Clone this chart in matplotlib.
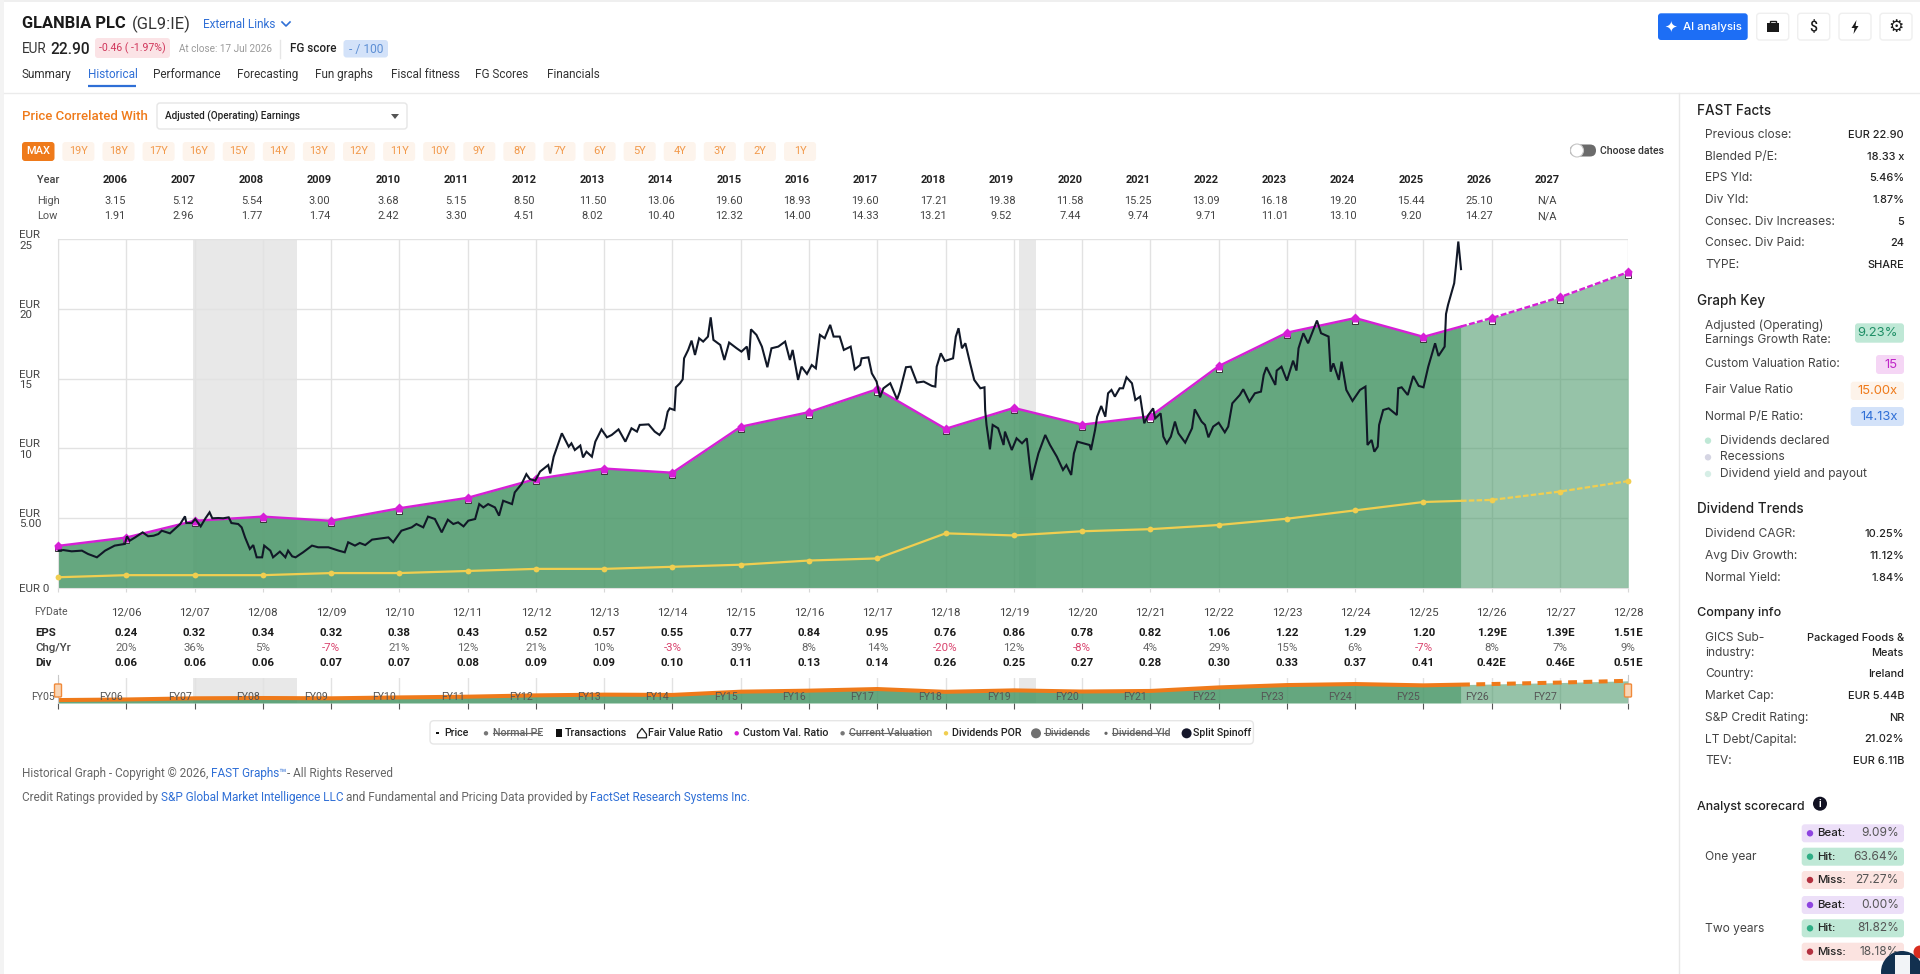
import numpy as np
import matplotlib
matplotlib.use("Agg")
import matplotlib.pyplot as plt
from matplotlib.patches import FancyBboxPatch, Rectangle, Circle, Polygon
from matplotlib.transforms import blended_transform_factory, offset_copy

plt.rcParams["font.family"] = ["Roboto", "DejaVu Sans"]

# Chart data
years = list(range(2006, 2028))
high = ["3.15", "5.12", "5.54", "3.00", "3.68", "5.15", "8.50", "11.50", "13.06", "19.60", "18.93",
        "19.60", "17.21", "19.38", "11.58", "15.25", "13.09", "16.18", "19.20", "15.44", "25.10", "N/A"]
low = ["1.91", "2.96", "1.77", "1.74", "2.42", "3.30", "4.51", "8.02", "10.40", "12.32", "14.00",
       "14.33", "13.21", "9.52", "7.44", "9.74", "9.71", "11.01", "13.10", "9.20", "14.27", "N/A"]

fy = list(range(2005, 2029))
eps = [0.20, 0.24, 0.32, 0.34, 0.32, 0.38, 0.43, 0.52, 0.57, 0.55, 0.77, 0.84, 0.95, 0.76, 0.86,
       0.78, 0.82, 1.06, 1.22, 1.29, 1.20, 1.29, 1.39, 1.51]
div = [0.05, 0.06, 0.06, 0.06, 0.07, 0.07, 0.08, 0.09, 0.09, 0.10, 0.11, 0.13, 0.14, 0.26, 0.25,
       0.27, 0.28, 0.30, 0.33, 0.37, 0.41, 0.42, 0.46, 0.51]
eps_labels = ["0.24", "0.32", "0.34", "0.32", "0.38", "0.43", "0.52", "0.57", "0.55", "0.77", "0.84", "0.95",
              "0.76", "0.86", "0.78", "0.82", "1.06", "1.22", "1.29", "1.20", "1.29E", "1.39E", "1.51E"]
chg = [20, 36, 5, -7, 21, 12, 21, 10, -3, 39, 8, 14, -20, 12, -8, 4, 29, 15, 6, -7, 8, 7, 9]
div_labels = ["0.06", "0.06", "0.06", "0.07", "0.07", "0.08", "0.09", "0.09", "0.10", "0.11", "0.13", "0.14",
              "0.26", "0.25", "0.27", "0.28", "0.30", "0.33", "0.37", "0.41", "0.42E", "0.46E", "0.51E"]
valuation_ratio = 15
recessions = [(2006.98, 2008.5), (2019.08, 2019.32)]
last_price_date = 2025.55

price_dates = [
    2005.01, 2005.08, 2005.2, 2005.35, 2005.44, 2005.57, 2005.69, 2005.83, 2005.98, 2006.01, 2006.05, 2006.13,
    2006.24, 2006.32, 2006.4, 2006.47, 2006.52, 2006.64, 2006.79, 2006.86, 2006.88, 2006.96, 2007.01, 2007.09,
    2007.16, 2007.22, 2007.26, 2007.35, 2007.42, 2007.5, 2007.54, 2007.64, 2007.69, 2007.74, 2007.81, 2007.86,
    2007.91, 2007.99, 2008.02, 2008.11, 2008.15, 2008.25, 2008.33, 2008.37, 2008.43, 2008.48, 2008.59, 2008.72,
    2008.81, 2008.96, 2009.11, 2009.2, 2009.25, 2009.35, 2009.42, 2009.5, 2009.6, 2009.84, 2009.91, 2010.03,
    2010.18, 2010.25, 2010.35, 2010.42, 2010.52, 2010.62, 2010.71, 2010.79, 2010.86, 2010.94, 2011.01, 2011.11,
    2011.17, 2011.23, 2011.3, 2011.4, 2011.46, 2011.52, 2011.65, 2011.69, 2011.79, 2011.86, 2011.91, 2011.99,
    2012.06, 2012.18, 2012.21, 2012.26, 2012.38, 2012.48, 2012.52, 2012.57, 2012.65, 2012.69, 2012.74, 2012.82,
    2012.87, 2012.96, 2013.04, 2013.11, 2013.21, 2013.31, 2013.4, 2013.48, 2013.52, 2013.65, 2013.74, 2013.81,
    2013.88, 2013.93, 2013.96, 2014.03, 2014.05, 2014.11, 2014.15, 2014.17, 2014.23, 2014.28, 2014.33, 2014.39,
    2014.45, 2014.52, 2014.56, 2014.6, 2014.7, 2014.76, 2014.83, 2014.94, 2015.01, 2015.09, 2015.12, 2015.15,
    2015.23, 2015.31, 2015.39, 2015.45, 2015.55, 2015.65, 2015.72, 2015.76, 2015.84, 2015.89, 2015.97, 2016.04,
    2016.1, 2016.16, 2016.23, 2016.31, 2016.36, 2016.45, 2016.51, 2016.61, 2016.67, 2016.75, 2016.77, 2016.87,
    2016.92, 2016.99, 2017.04, 2017.09, 2017.19, 2017.29, 2017.33, 2017.42, 2017.49, 2017.58, 2017.68, 2017.8,
    2017.85, 2017.87, 2017.93, 2017.99, 2018.11, 2018.15, 2018.19, 2018.24, 2018.29, 2018.36, 2018.42, 2018.51,
    2018.57, 2018.58, 2018.6, 2018.65, 2018.69, 2018.77, 2018.85, 2018.87, 2018.97, 2019.04, 2019.12, 2019.19,
    2019.23, 2019.26, 2019.36, 2019.46, 2019.53, 2019.63, 2019.72, 2019.77, 2019.84, 2019.88, 2019.93, 2020.11,
    2020.13, 2020.19, 2020.22, 2020.28, 2020.34, 2020.38, 2020.43, 2020.48, 2020.55, 2020.6, 2020.65, 2020.73,
    2020.78, 2020.85, 2020.91, 2020.97, 2021.04, 2021.07, 2021.15, 2021.19, 2021.24, 2021.3, 2021.36, 2021.41,
    2021.51, 2021.61, 2021.65, 2021.75, 2021.8, 2021.85, 2021.92, 2022.0, 2022.09, 2022.14, 2022.2, 2022.31,
    2022.36, 2022.45, 2022.53, 2022.62, 2022.66, 2022.7, 2022.83, 2022.85, 2022.92, 2023.0, 2023.09, 2023.14,
    2023.17, 2023.24, 2023.31, 2023.44, 2023.5, 2023.61, 2023.64, 2023.68, 2023.76, 2023.8, 2023.87, 2023.96,
    2024.07, 2024.15, 2024.18, 2024.24, 2024.28, 2024.33, 2024.35, 2024.41, 2024.49, 2024.61, 2024.63, 2024.68,
    2024.77, 2024.85, 2024.93, 2025.0, 2025.07, 2025.17, 2025.22, 2025.31, 2025.33, 2025.36, 2025.45, 2025.48,
    2025.51, 2025.55]
price_values = [
    2.66, 2.7, 2.61, 2.66, 2.42, 2.18, 2.66, 3.02, 3.14, 3.69, 3.37, 3.61,
    3.97, 3.69, 3.73, 3.85, 4.09, 3.9, 4.57, 5.12, 4.64, 4.64, 4.93, 4.4,
    4.98, 5.41, 4.98, 5.0, 4.98, 5.05, 4.64, 4.57, 4.33, 3.61, 2.78, 3.06,
    2.18, 2.18, 3.02, 2.66, 2.18, 2.59, 2.18, 2.66, 2.25, 2.18, 2.54, 3.02,
    2.9, 2.9, 2.66, 2.54, 3.26, 3.02, 3.21, 3.06, 3.45, 3.61, 3.26, 4.09,
    4.33, 4.57, 4.33, 5.1, 4.93, 3.97, 4.88, 4.57, 4.69, 4.4, 4.81, 4.93,
    6.0, 5.76, 6.0, 5.76, 5.17, 6.24, 6.0, 6.84, 7.44, 8.15, 7.8, 7.68,
    8.33, 8.8, 8.2, 9.4, 11.08, 10.12, 10.36, 9.88, 10.2, 9.35, 9.76, 9.4,
    10.48, 11.36, 10.79, 10.96, 11.36, 10.48, 11.44, 11.2, 11.68, 11.72, 11.2, 10.96,
    11.44, 12.63, 12.87, 12.75, 14.38, 14.67, 14.95, 16.46, 17.06, 17.73, 16.7, 17.9,
    17.66, 18.02, 19.4, 17.78, 17.42, 16.34, 17.59, 17.18, 16.94, 17.3, 16.34, 18.54,
    18.14, 17.3, 15.82, 17.18, 17.3, 17.66, 16.34, 17.06, 14.91, 15.86, 15.34, 15.98,
    15.74, 18.14, 17.9, 18.86, 18.02, 18.02, 17.06, 17.3, 15.67, 15.98, 16.46, 16.53,
    15.38, 14.79, 13.66, 14.31, 14.67, 13.52, 14.07, 15.82, 15.86, 14.72, 14.79, 14.48,
    14.43, 15.86, 16.82, 16.27, 16.46, 18.02, 18.62, 17.18, 17.54, 16.1, 14.91, 14.31,
    14.38, 12.75, 11.68, 9.93, 11.68, 11.44, 10.24, 11.2, 9.88, 10.72, 10.36, 10.72,
    8.92, 7.73, 9.64, 10.96, 10.24, 9.4, 8.45, 8.8, 8.09, 9.64, 10.48, 10.24,
    9.88, 11.32, 12.27, 13.04, 12.27, 13.95, 14.19, 13.71, 14.31, 14.31, 15.1, 14.67,
    13.47, 13.71, 11.8, 12.39, 12.87, 12.15, 12.51, 10.84, 10.36, 10.84, 11.92, 11.08,
    10.41, 11.44, 12.8, 11.92, 11.68, 10.79, 11.56, 11.84, 11.15, 11.56, 13.23, 13.83,
    14.24, 13.35, 13.95, 14.07, 15.27, 15.82, 14.55, 15.58, 15.86, 14.86, 16.29, 15.58,
    17.18, 18.26, 17.54, 19.17, 18.26, 18.02, 15.5, 16.1, 14.91, 16.22, 14.19, 13.4,
    14.19, 14.43, 10.24, 10.6, 9.76, 10.12, 11.68, 12.75, 12.87, 12.39, 14.31, 14.38,
    13.83, 15.19, 14.48, 14.38, 15.86, 17.54, 16.63, 17.3, 19.64, 20.3, 21.85, 23.29,
    24.84, 22.86]

# Page text
buttons = ["19Y", "18Y", "17Y", "16Y", "15Y", "14Y", "13Y", "12Y", "11Y", "10Y", "9Y", "8Y", "7Y", "6Y",
           "5Y", "4Y", "3Y", "2Y", "1Y"]
tabs = [("Summary", 22), ("Historical", 88), ("Performance", 153), ("Forecasting", 237), ("Fun graphs", 315),
        ("Fiscal fitness", 391), ("FG Scores", 475), ("Financials", 547.5)]
fast_facts = [("Previous close:", "EUR 22.90"), ("Blended P/E:", "18.33 x"), ("EPS Yld:", "5.46%"),
              ("Div Yld:", "1.87%"), ("Consec. Div Increases:", "5"), ("Consec. Div Paid:", "24"),
              ("TYPE:", "SHARE")]
div_trends = [("Dividend CAGR:", "10.25%"), ("Avg Div Growth:", "11.12%"), ("Normal Yield:", "1.84%")]
company = [("Country:", "Ireland"), ("Market Cap:", "EUR 5.44B"), ("S&P Credit Rating:", "NR"),
           ("LT Debt/Capital:", "21.02%"), ("TEV:", "EUR 6.11B")]
scores = [("Beat:", "9.09%"), ("Hit:", "63.64%"), ("Miss:", "27.27%"), ("Beat:", "0.00%"), ("Hit:", "81.82%"),
          ("Miss:", "18.18%")]

W, H = 1920, 974
GREEN = "#4A9869"
MAGENTA = "#D61FD6"
YELLOW = "#F0CE50"
ORANGE = "#EF7A1A"
BLUE = "#2F6FD6"


def fs(px):
    return px * 0.72


def axes_at(fig, x0, y0, x1, y1, **kw):
    return fig.add_axes([x0 / W, 1 - y1 / H, (x1 - x0) / W, (y1 - y0) / H], **kw)


fig = plt.figure(figsize=(W / 100, H / 100), dpi=100, facecolor="white")

# Full page layer in pixel units
ui = axes_at(fig, 0, 0, W, H, zorder=5)
ui.set_xlim(0, W)
ui.set_ylim(H, 0)
ui.axis("off")
ui.patch.set_alpha(0)


def txt(x, y, s, px=13, color="#333333", weight="normal", ha="left", family=None, **kw):
    if family is not None:
        kw["family"] = family
    return ui.text(x, y, s, fontsize=fs(px), color=color, fontweight=weight, ha=ha, va="center", **kw)


def chip(x0, y0, x1, y1, face, edge="none", r=3, lw=1, z=2):
    ui.add_patch(FancyBboxPatch((x0 + r, y0 + r), x1 - x0 - 2 * r, y1 - y0 - 2 * r,
                                boxstyle=f"round,pad={r},rounding_size={r}", fc=face, ec=edge, lw=lw, zorder=z))


# Frame lines
ui.add_patch(Rectangle((0, 0), W, 2, fc="#EFEFEF", ec="none"))
ui.add_patch(Rectangle((0, 0), 4, H, fc="#F3F3F3", ec="none"))
ui.plot([4, W], [93, 93], color="#EBEBEB", lw=1)
ui.plot([1679, 1679], [93, H], color="#E8E8E8", lw=1)

# Header
txt(22, 24, "GLANBIA PLC", 16.5, "#1A1A1A", "bold")
txt(131.5, 24, "(GL9:IE)", 16.5, "#333333")
txt(203, 24, "External Links", 11.7, BLUE)
ui.plot([282, 286, 290], [22, 26, 22], color=BLUE, lw=1.2)
txt(22, 49, "EUR", 13.5, "#333333")
txt(50, 49, "22.90", 15.5, "#222222", "medium")
chip(95, 38, 170, 58, "#FBE3E6")
txt(132.5, 48.5, "-0.46 ( -1.97%)", 10.5, "#D0355A", ha="center")
txt(179, 48.5, "At close: 17 Jul 2026", 10, "#9A9A9A")
ui.plot([280, 280], [40, 58], color="#E6E6E6", lw=1)
txt(290, 49, "FG score", 11.8, "#222222", "medium")
chip(343.5, 40, 388, 57.5, "#D3E2F9")
txt(365.7, 49, "- / 100", 12, "#5D8FD4", ha="center")
for name, x in tabs:
    txt(x, 74.7, name, 11.7, BLUE if name == "Historical" else "#333333")
ui.plot([88, 136], [85.7, 85.7], color=BLUE, lw=1.6, solid_capstyle="butt")

# Top right buttons
chip(1658, 13.3, 1747.7, 40, "#1D6EF5", r=3)
txt(1671, 27, "✦", 15, "white", ha="center", family="DejaVu Sans")
txt(1683, 27, "AI analysis", 11.4, "white", "medium", family="Inter")
for cx in (1772.7, 1813.7, 1855, 1896):
    chip(cx - 16, 13.3, cx + 16, 40, "white", edge="#EFEFEF")
ui.add_patch(Rectangle((1766.5, 23), 12.5, 9, fc="#1A1A1A", ec="none", zorder=3))
ui.add_patch(Rectangle((1770, 20.5), 5.5, 3, fc="none", ec="#1A1A1A", lw=1, zorder=3))
txt(1813.7, 27, "$", 14, "#1A1A1A", "medium", ha="center", zorder=3)
ui.add_patch(Polygon([[1856.5, 20], [1851.5, 28], [1854.5, 28], [1853.5, 34], [1858.5, 26], [1855.5, 26]],
                     fc="#1A1A1A", ec="none", zorder=3))
txt(1896, 26.5, "⚙", 17, "#1A1A1A", ha="center", family="DejaVu Sans", zorder=3)

# Controls row
txt(22, 116, "Price Correlated With", 13.2, ORANGE, "medium")
chip(157, 103, 407, 129, "white", edge="#E6E6E6")
txt(165, 116, "Adjusted (Operating) Earnings", 10, "#222222", "medium")
ui.add_patch(Polygon([[391, 114], [399, 114], [395, 119]], fc="#555555", ec="none", zorder=3))
chip(22, 142, 54.5, 161, ORANGE)
txt(38.2, 151.5, "MAX", 11, "white", "medium", ha="center")
for i, label in enumerate(buttons):
    cx = 78.4 + i * 40.09
    chip(cx - 16, 142, cx + 16, 161, "#FDF4EC")
    txt(cx, 151.5, label, 11, "#F2994A", ha="center")
chip(1570, 144.5, 1596, 156.5, "#6B6B6B", r=6)
ui.add_patch(Circle((1577, 150.5), 6.5, fc="white", ec="#C8C8C8", lw=0.8, zorder=3))
txt(1600, 150.5, "Choose dates", 10.5, "#333333", "medium")

# High / low table
txt(37, 180, "Year", 11, "#444444", "medium")
txt(37, 201, "High", 11, "#555555")
txt(37, 216, "Low", 11, "#555555")
for i, y in enumerate(years):
    cx = 115 + i * 68.2
    txt(cx, 180, str(y), 11, "#222222", "bold", ha="center")
    txt(cx, 201, high[i], 11, "#444444", ha="center")
    txt(cx, 216, low[i], 11, "#444444", ha="center")

# Main chart
ax = axes_at(fig, 58, 239.3, 1628.3, 587.7, zorder=2)
fair = np.array(eps) * valuation_ratio
div_line = np.array(div) * valuation_ratio
for a, b in recessions:
    ax.axvspan(a, b, color="#E8E8E8", lw=0, zorder=0)

fy_arr = np.array(fy, dtype=float)
hist = fy_arr < last_price_date
x_hist = np.append(fy_arr[hist], last_price_date)
x_fut = np.insert(fy_arr[~hist], 0, last_price_date)
fair_hist = np.interp(x_hist, fy_arr, fair)
fair_fut = np.interp(x_fut, fy_arr, fair)
div_hist = np.interp(x_hist, fy_arr, div_line)
div_fut = np.interp(x_fut, fy_arr, div_line)

ax.fill_between(x_hist, 0, fair_hist, color=GREEN, alpha=0.85, lw=0, zorder=2)
ax.fill_between(x_fut, 0, fair_fut, color=GREEN, alpha=0.58, lw=0, zorder=2)

ax.plot(x_hist, div_hist, color=YELLOW, lw=1.6, zorder=3)
ax.plot(x_fut, div_fut, color=YELLOW, lw=1.6, ls=(0, (2.5, 1)), zorder=3)
ax.plot(fy, div_line, ls="none", marker="o", ms=4.2, color=YELLOW, mec="none", zorder=3, clip_on=False)

below = offset_copy(ax.transData, fig=fig, y=-1.8, units="points")
ax.plot(fy, fair, ls="none", marker="s", ms=4.6, mfc="white", mec="#333333", mew=0.7, transform=below, zorder=4,
        clip_on=False)
ax.plot(x_hist, fair_hist, color=MAGENTA, lw=1.7, zorder=5)
ax.plot(x_fut, fair_fut, color=MAGENTA, lw=1.7, ls=(0, (2.5, 1)), zorder=5)
ax.plot(fy, fair, ls="none", marker="p", ms=6.5, color=MAGENTA, mec="none", zorder=6, clip_on=False)
ax.plot(price_dates, price_values, color="#111827", lw=1.5, solid_joinstyle="miter", zorder=7, clip_on=False)

ax.set_xlim(2005, 2028)
ax.set_ylim(0, 25)
ax.set_yticks([0, 5, 10, 15, 20, 25])
ax.set_yticklabels(["EUR 0", "EUR\n5.00", "EUR\n10", "EUR\n15", "EUR\n20", "EUR\n25"], fontsize=fs(11.5),
                   color="#444444", ha="left", linespacing=1.05)
ax.tick_params(axis="y", length=0, pad=28)
ax.set_xticks(fy)
ax.set_xticklabels([""] + [f"12/{y % 100:02d}" for y in fy[1:]], fontsize=fs(11.5), color="#444444")
ax.tick_params(axis="x", length=3, color="#D8D8D8", pad=11)
ax.grid(True, color="#E2E2E2", lw=1.0, zorder=1)
ax.set_axisbelow(True)
for name, s in ax.spines.items():
    s.set_visible(name in ("bottom", "left"))
    s.set_color("#E0E0E0")
txt(34.4, 611.7, "FYDate", 10.5, "#555555")

# EPS table, columns follow the chart's x scale
col = blended_transform_factory(ax.transData, ui.transData)
txt(35, 632.7, "EPS", 11.5, "#222222", "bold")
txt(35, 647.7, "Chg/Yr", 11.5, "#444444", "medium")
txt(35, 662.7, "Div", 11.5, "#222222", "bold")
for i, y in enumerate(fy[1:]):
    ui.text(y, 632.7, eps_labels[i], transform=col, ha="center", va="center", fontsize=fs(11.5),
            fontweight="bold", color="#1A1A1A")
    ui.text(y, 647.7, f"{chg[i]}%", transform=col, ha="center", va="center", fontsize=fs(11.5),
            color="#D9436D" if chg[i] < 0 else "#666666")
    ui.text(y, 662.7, div_labels[i], transform=col, ha="center", va="center", fontsize=fs(11.5),
            fontweight="bold", color="#1A1A1A")

# Navigator
nav = axes_at(fig, 58, 678, 1628.3, 703, zorder=3)
for a, b in recessions:
    nav.axvspan(a, b, color="#E8E8E8", lw=0, zorder=0)
nav.fill_between(x_hist, 0, fair_hist, color=GREEN, alpha=0.85, lw=0, zorder=2)
nav.fill_between(x_fut, 0, fair_fut, color=GREEN, alpha=0.58, lw=0, zorder=2)
nav.plot(x_hist, fair_hist, color=ORANGE, lw=2.9, solid_capstyle="butt", zorder=3)
nav.plot(x_fut, fair_fut, color=ORANGE, lw=2.9, ls=(0, (2.2, 1.6)), zorder=3)
nav.set_xlim(2005, 2028)
nav.set_ylim(0, 25.5)
nav.set_yticks([])
nav.set_xticks(fy)
nav.set_xticklabels([])
nav.tick_params(axis="x", length=4, color="#555555", width=0.8)
nav.grid(True, axis="x", color="#E2E2E2", lw=1.0)
nav.set_axisbelow(True)
for s in nav.spines.values():
    s.set_visible(False)
for i, y in enumerate(fy[:-1]):
    ui.text(y - 0.22, 696.7, f"FY{y % 100:02d}", transform=col, ha="center", va="center", fontsize=fs(10.5),
            color="#555555", zorder=6)
for hx in (58, 1628):
    ui.plot([hx, hx], [675, 703], color="#C8C8C8", lw=0.8, zorder=6)
    chip(hx - 3.5, 684, hx + 3.5, 697, "#F9D5B5", edge="#F08A3A", r=1, z=7)

# Legend
chip(430, 720.7, 1253.4, 744, "white", edge="#E6E6E6", r=4)
ly = 733.3
legend_text = [(444, "Price", None), (493, "Normal PE", 540), (565, "Transactions", None),
               (648.5, "Fair Value Ratio", None), (743.4, "Custom Val. Ratio", None),
               (848.8, "Current Valuation", 927), (952, "Dividends POR", None), (1044, "Dividends", 1087),
               (1112, "Dividend Yld", 1168), (1192.8, "Split Spinoff", None)]
for x, s, strike in legend_text:
    txt(x, ly, s, 10.6, "#666666" if strike else "#222222", "medium", zorder=4)
    if strike:
        ui.plot([x, strike], [ly, ly], color="#666666", lw=0.8, zorder=5)
ui.add_patch(Rectangle((435.5, ly - 1), 3.5, 2, fc="#111111", ec="none", zorder=4))
ui.add_patch(Circle((486, ly), 2.2, fc="#777777", ec="none", zorder=4))
ui.add_patch(Rectangle((555.5, ly - 4), 6.5, 8, fc="#111111", ec="none", zorder=4))
ui.add_patch(Polygon([[637.5, ly + 4.5], [637.5, ly + 1], [642, ly - 5], [646.5, ly + 1], [646.5, ly + 4.5]],
                     fc="white", ec="#222222", lw=0.9, zorder=4))
ui.add_patch(Circle((736.7, ly), 2.2, fc=MAGENTA, ec="none", zorder=4))
ui.add_patch(Circle((842.6, ly), 2.2, fc="#777777", ec="none", zorder=4))
ui.add_patch(Circle((946, ly), 2.2, fc=YELLOW, ec="none", zorder=4))
ui.add_patch(Circle((1036, ly), 5, fc="#707070", ec="none", zorder=4))
ui.add_patch(Circle((1106, ly), 1.6, fc="#666666", ec="none", zorder=4))
ui.add_patch(Circle((1186.6, ly), 5, fc="#15172A", ec="none", zorder=4))

# Footer
txt(22, 773.7, "Historical Graph - Copyright © 2026,", 11.7, "#666666")
txt(211, 773.7, "FAST Graphs™", 11.7, BLUE)
txt(287, 773.7, "- All Rights Reserved", 11.7, "#666666")
txt(22, 797.3, "Credit Ratings provided by", 11.7, "#666666")
txt(160.7, 797.3, "S&P Global Market Intelligence LLC", 11.7, BLUE)
txt(346, 797.3, "and Fundamental and Pricing Data provided by", 11.7, "#666666")
txt(590, 797.3, "FactSet Research Systems Inc.", 11.7, BLUE)

# Sidebar
SB = "Inter"
LX, RX, HX = 1705, 1904, 1696.7


def heading(y, s, px=13.5):
    txt(HX, y, s, px, "#222222", "medium", family=SB)


def row(y, label, value):
    txt(LX, y, label, 12, "#444444", family=SB)
    txt(RX, y, value, 11, "#222222", "medium", ha="right", family=SB)


heading(110.7, "FAST Facts")
for i, (a, b) in enumerate(fast_facts):
    row(135 + i * 21.67, a, b)

heading(301, "Graph Key")
txt(LX, 325.3, "Adjusted (Operating)", 12, "#444444", family=SB)
txt(LX, 340.3, "Earnings Growth Rate:", 12, "#444444", family=SB)
chip(1855, 323.3, 1904, 342.7, "#BFE8D6")
txt(1897.5, 333, "9.23%", 13, "#1F8F66", ha="right", family=SB, zorder=3)
txt(LX, 364, "Custom Valuation Ratio:", 12, "#444444", family=SB)
chip(1876, 355, 1904, 374, "#F5D6F5")
txt(1897.5, 364.5, "15", 13, "#C026C8", ha="right", family=SB, zorder=3)
txt(LX, 390.3, "Fair Value Ratio", 12, "#444444", family=SB)
chip(1850.7, 381.7, 1904, 400, "#FDF3EA")
txt(1897.5, 390.8, "15.00x", 13, ORANGE, ha="right", family=SB, zorder=3)
txt(LX, 416.7, "Normal P/E Ratio:", 12, "#444444", family=SB)
chip(1850.7, 407, 1904, 426, "#D3E2F9")
txt(1897.5, 416.5, "14.13x", 13, BLUE, ha="right", family=SB, zorder=3)
for y, c, s in [(440.7, "#BFE8D6", "Dividends declared"), (457.3, "#D5D5E3", "Recessions"),
                (474, "#D6EEE6", "Dividend yield and payout")]:
    ui.add_patch(Circle((1708, y), 3.2, fc=c, ec="none"))
    txt(1719.7, y, s, 12, "#444444", family=SB)

heading(509.3, "Dividend Trends")
for i, (a, b) in enumerate(div_trends):
    row(534 + i * 21.85, a, b)

heading(613.3, "Company info", 12.6)
txt(LX, 637.7, "GICS Sub-", 12, "#444444", family=SB)
txt(LX, 652.7, "industry:", 12, "#444444", family=SB)
txt(RX, 637.7, "Packaged Foods &", 11, "#222222", "medium", ha="right", family=SB)
txt(RX, 652.7, "Meats", 11, "#222222", "medium", ha="right", family=SB)
for i, (a, b) in enumerate(company):
    row(674.3 + i * 21.67, a, b)

heading(807.3, "Analyst scorecard", 12.4)
ui.add_patch(Circle((1820, 803.7), 7, fc="#111122", ec="none"))
txt(1820, 803.7, "i", 10, "white", "bold", ha="center", zorder=4)
txt(LX, 856.7, "One year", 12, "#444444", family=SB)
txt(LX, 928.7, "Two years", 12, "#444444", family=SB)
score_style = {"Beat:": ("#ECDFF8", "#8E44E0"), "Hit:": ("#BFE8D6", "#2FAE85"), "Miss:": ("#FBE3E0", "#B3303F")}
for y, (label, value) in zip((833.3, 856.7, 880, 905, 928.3, 951.7), scores):
    face, dot = score_style[label]
    chip(1801.7, y - 9, 1904, y + 9, face)
    ui.add_patch(Circle((1810, y), 3.2, fc=dot, ec="none", zorder=3))
    txt(1816.7, y, label, 11.5, "#222222", "medium", family=SB, zorder=3)
    txt(1899, y, value, 12, "#555555", ha="right", family=SB, zorder=3)

# Chat bubble over the bottom right corner
ui.add_patch(Circle((1902, 972), 21, fc="#12304F", ec="none", zorder=8))
ui.add_patch(Rectangle((1895, 955), 15, 20, fc="#F2F4F7", ec="none", zorder=9))
ui.add_patch(Circle((1920, 952), 6.5, fc="#D92D20", ec="none", zorder=10))

fig.savefig("out.png", dpi=100, facecolor="white")
